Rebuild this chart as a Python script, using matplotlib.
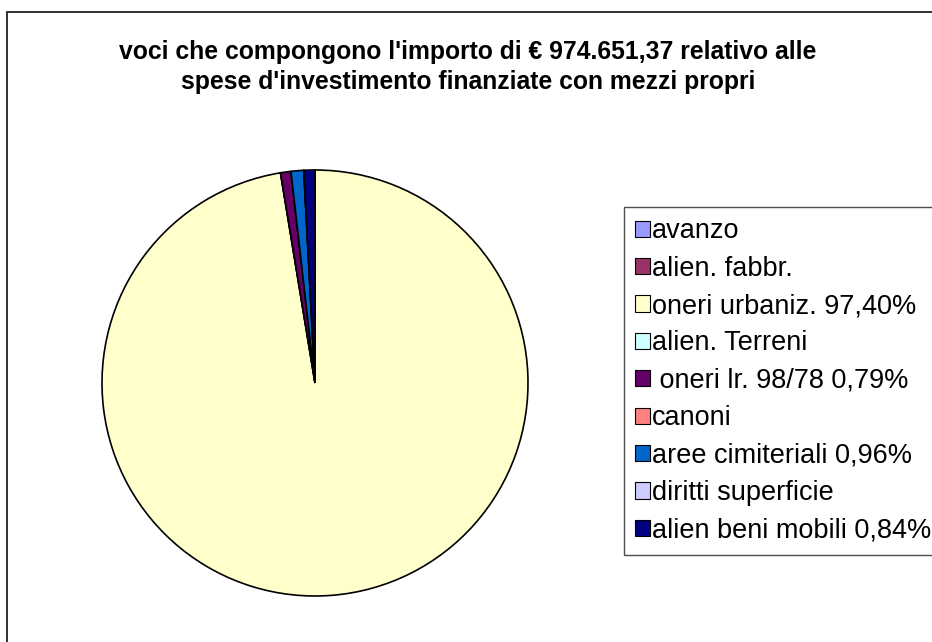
import matplotlib.pyplot as plt
from matplotlib.patches import Rectangle

plt.rcParams['font.family'] = ['Liberation Sans', 'DejaVu Sans']

TITLE = "voci che compongono l'importo di € 974.651,37 relativo alle\nspese d'investimento finanziate con mezzi propri"

labels = ['avanzo', 'alien. fabbr.', 'oneri urbaniz. 97,40%', 'alien. Terreni',
          ' oneri lr. 98/78 0,79%', 'canoni', 'aree cimiteriali 0,96%',
          'diritti superficie', 'alien beni mobili 0,84%']
values = [0, 0, 97.40, 0, 0.79, 0, 0.96, 0, 0.84]
colors = ['#9999FF', '#993366', '#FFFFCC', '#CCFFFF', '#660066',
          '#FF8080', '#0066CC', '#CCCCFF', '#000080']

W, H = 932, 642
fig = plt.figure(figsize=(W / 100, H / 100), dpi=100)
fig.patch.set_facecolor('white')

# outer chart frame (right / bottom edges fall outside the picture)
fig.add_artist(Rectangle((7 / W, -0.1), 1.2, 1 - 12 / H + 0.1, transform=fig.transFigure,
                         fill=False, edgecolor='#222222', linewidth=1.3))

fig.text(468 / W, 1 - 67 / H, TITLE, ha='center', va='center', fontsize=17.8,
         fontweight='bold', linespacing=1.35)

# pie: centre (315, 383) px, radius 213 px
cx, cy, r = 315, 383, 213
ax = fig.add_axes([(cx - r) / W, 1 - (cy + r) / H, 2 * r / W, 2 * r / H])
wedges, _ = ax.pie(values, colors=colors, startangle=90, counterclock=False,
                   wedgeprops=dict(edgecolor='black', linewidth=1.2))
for w in wedges:
    w.set_clip_on(False)
ax.set_xlim(-1, 1)
ax.set_ylim(-1, 1)
ax.set_aspect('auto')
ax.axis('off')

leg = fig.legend(wedges, labels, loc='upper left', bbox_to_anchor=(624 / W, 1 - 207 / H),
                 fontsize=19.5, frameon=True, fancybox=False, borderpad=0.42,
                 labelspacing=0.42, handlelength=0.55, handleheight=0.55,
                 handletextpad=0.06, borderaxespad=0)
leg.get_frame().set_edgecolor('#222222')
leg.get_frame().set_linewidth(1.0)
for h in leg.legend_handles:
    h.set_linewidth(0.8)

fig.savefig('out.png', dpi=100, facecolor='white')
